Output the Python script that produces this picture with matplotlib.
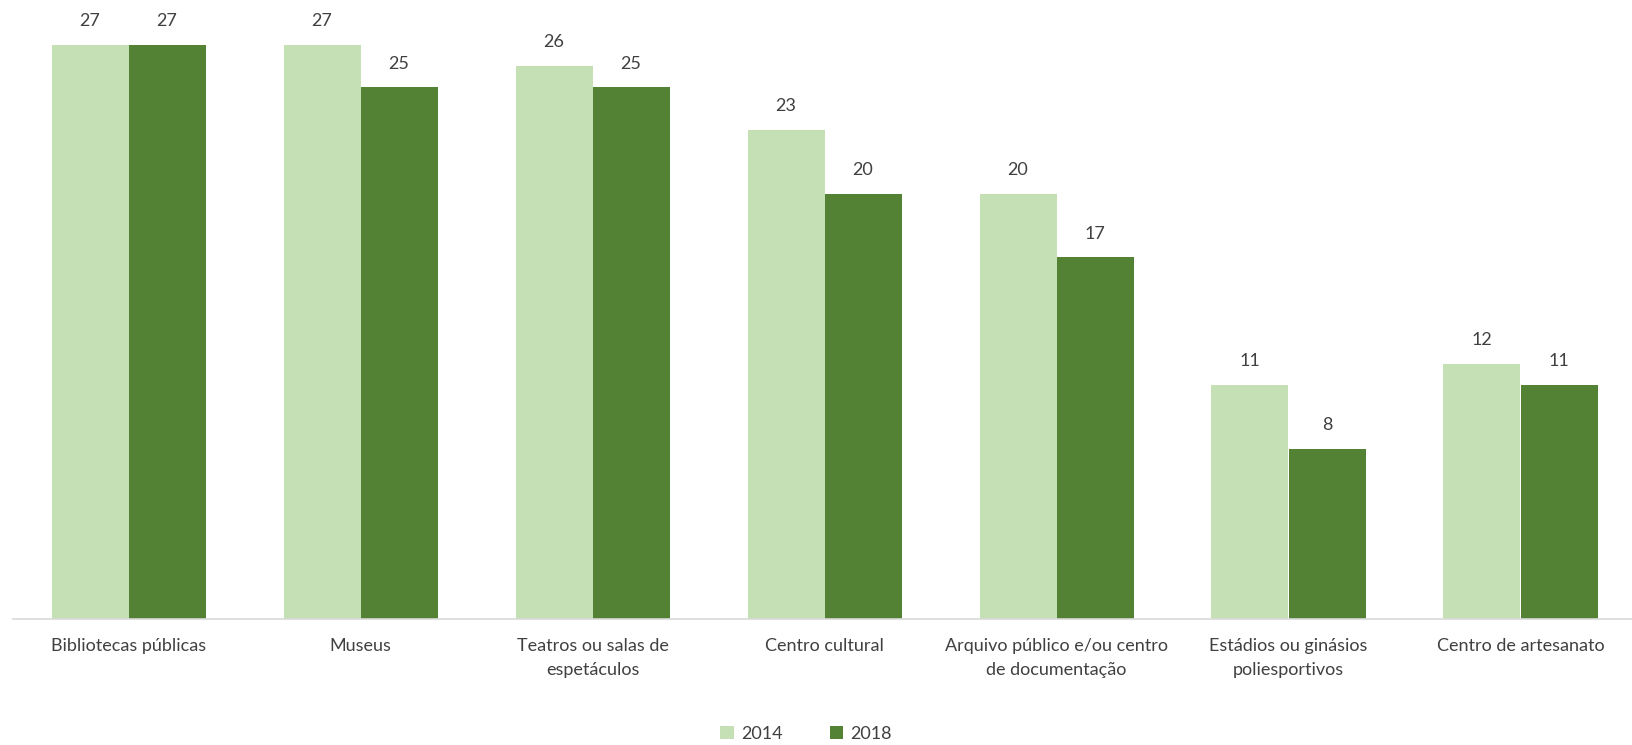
import matplotlib.pyplot as plt
import numpy as np

# Dados
categorias = ["Bibliotecas públicas", "Museus", "Teatros ou salas de\nespetáculos",
              "Centro cultural", "Arquivo público e/ou centro\nde documentação",
              "Estádios ou ginásios\npoliesportivos", "Centro de artesanato"]
anos = ["2014", "2018"]
valores_2014 = [27, 27, 26, 23, 20, 11, 12]
valores_2018 = [27, 25, 25, 20, 17, 8, 11]

cor_2014 = "#C5E0B4"
cor_2018 = "#548235"

plt.rcParams['font.family'] = ['Lato', 'DejaVu Sans']

W, H = 1632, 745
fig = plt.figure(figsize=(W / 100, H / 100), dpi=100)
# eixo: de x=12.5 até 1636.5 px, base em y=619, 27 -> y=44.7
px_unit = (619 - 44.7) / 27
ax = fig.add_axes([12.5 / W, (H - 619) / H, 1624 / W, 619 * 0.999 / H])
ax.set_ylim(0, 619 * 0.999 / px_unit)

x = np.arange(len(categorias))
largura = 77 / 232
b1 = ax.bar(x - largura / 2, valores_2014, largura, color=cor_2014, label=anos[0])
b2 = ax.bar(x + largura / 2, valores_2018, largura, color=cor_2018, label=anos[1])

for barras in (b1, b2):
    for b in barras:
        ax.annotate(f"{b.get_height():.0f}", (b.get_x() + b.get_width() / 2, b.get_height()),
                    xytext=(0, 17), textcoords="offset points", ha="center", va="center",
                    fontsize=13, color="#404040")

ax.set_xlim(-0.5, len(categorias) - 0.5)
ax.set_xticks(x)
ax.set_xticklabels(categorias, fontsize=13, color="#404040", linespacing=1.6)
ax.tick_params(axis="x", length=0, pad=14)
ax.set_yticks([])
for s in ["top", "right", "left"]:
    ax.spines[s].set_visible(False)
ax.spines["bottom"].set_color("#D9D9D9")
ax.spines["bottom"].set_linewidth(1.2)

fig.legend(handles=[b1, b2], labels=anos, loc="center", bbox_to_anchor=(806 / W, 1 - 734 / H),
           ncol=2, frameon=False, fontsize=13, handlelength=0.75, handleheight=0.75,
           handletextpad=0.4, columnspacing=2.6, labelcolor="#404040")

plt.savefig("out.png", dpi=100)
plt.close()
